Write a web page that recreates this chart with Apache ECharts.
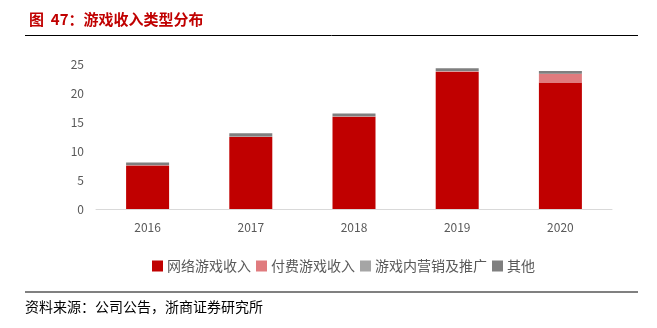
<!DOCTYPE html>
<html><head><meta charset="utf-8">
<script src="https://cdn.jsdelivr.net/npm/echarts@6/dist/echarts.min.js"></script>
<style>html,body{margin:0;padding:0;background:#fff}#c{width:657px;height:328px}</style>
</head><body><div id="c"></div>
<script>
const years = ['2016','2017','2018','2019','2020'];
const seriesNames = ['网络游戏收入','付费游戏收入','游戏内营销及推广','其他'];
const onlineGame = [7.5, 12.4, 15.9, 23.6, 21.8];
const paidGame = [0.05, 0.05, 0.05, 0.15, 1.5];
const marketing = [0.03, 0.03, 0.03, 0.03, 0.03];
const others = [0.45, 0.6, 0.5, 0.5, 0.45];
const yTicks = [0, 5, 10, 15, 20, 25];

const colors = ['#C00000', '#E07B7E', '#A5A5A5', '#7F7F7F'];
const dataSets = [onlineGame, paidGame, marketing, others];
const chart = echarts.init(document.getElementById('c'));
const font = '"Noto Sans CJK SC", "Noto Sans", sans-serif';
chart.setOption({
  animation: false,
  textStyle: {fontFamily: font},
  title: {
    text: '图  47：游戏收入类型分布',
    left: 24, top: 7,
    textStyle: {color: '#C00000', fontSize: 15, fontWeight: 'bold', fontFamily: font}
  },
  graphic: [
    {type: 'line', shape: {x1: 25, y1: 35.5, x2: 638, y2: 35.5}, style: {stroke: '#000', lineWidth: 1}},
    {type: 'line', shape: {x1: 25, y1: 292, x2: 638, y2: 292}, style: {stroke: '#808080', lineWidth: 2}},
    {type: 'text', left: 25, top: 300, style: {text: '资料来源：公司公告，浙商证券研究所', fill: '#000', font: '14px "Noto Sans CJK SC", sans-serif'}}
  ],
  legend: {
    data: seriesNames,
    top: 254, left: 147,
    itemWidth: 11, itemHeight: 11, itemGap: 5,
    icon: 'rect',
    textStyle: {color: '#595959', fontSize: 14, padding: [0, 0, 0, -1]}
  },
  grid: {left: 96, right: 45, top: 64, bottom: 119},
  xAxis: {
    type: 'category', data: years,
    axisLine: {lineStyle: {color: '#D9D9D9'}},
    axisTick: {show: false},
    axisLabel: {color: '#595959', fontSize: 12, margin: 12}
  },
  yAxis: {
    type: 'value', min: yTicks[0], max: yTicks[yTicks.length-1], interval: 5,
    axisLine: {show: false}, axisTick: {show: false}, splitLine: {show: false},
    axisLabel: {color: '#595959', fontSize: 12, margin: 12}
  },
  series: seriesNames.map((n, i) => ({
    name: n, type: 'bar', stack: 'total', barWidth: 43,
    itemStyle: {color: colors[i]},
    data: dataSets[i]
  }))
});
</script></body></html>
